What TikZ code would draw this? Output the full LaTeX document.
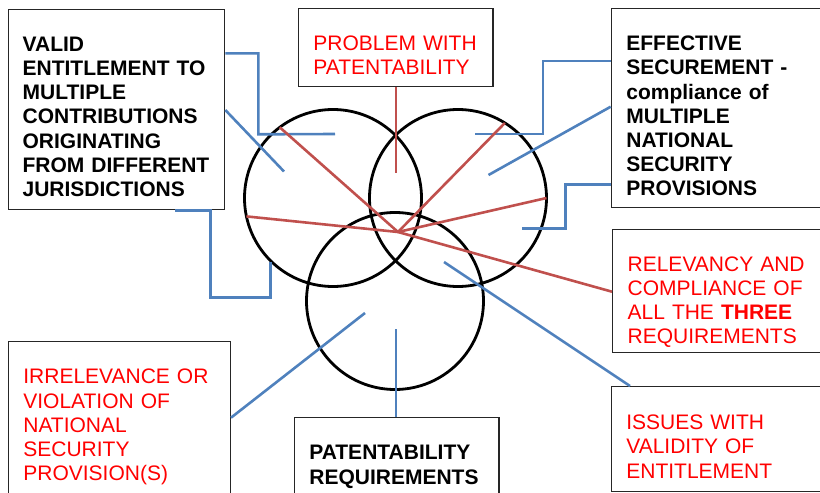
\documentclass[tikz,border=0pt]{standalone}
\usepackage{fontspec}
\setmainfont{Liberation Sans}
\definecolor{linkblue}{HTML}{4F81BD}
\definecolor{linkred}{HTML}{C0504D}
\definecolor{txtred}{HTML}{FF0000}
\tikzset{
 note/.style={draw=black!85,line width=1.3pt,anchor=north west,inner xsep=15pt,inner ysep=0pt,align=left,text height=42pt,font=\fontsize{21pt}{24.2pt}\selectfont},
 heavy/.style={font=\fontsize{21pt}{24.2pt}\selectfont\bfseries},
 alert/.style={text=txtred},
 ring/.style={draw,circle,line width=2.8pt,minimum size=177pt,inner sep=0pt,outer sep=0pt},
 bluelink/.style={linkblue,line width=2.6pt},
 redlink/.style={linkred,line width=2.6pt}
}
\begin{document}
\begin{tikzpicture}[x=1pt,y=-1pt]
 \useasboundingbox (0,0) rectangle (820,493);
 % the three circles
 \node[ring] (ca) at (333,198) {};
 \node[ring] (cb) at (458,198) {};
 \node[ring] (cc) at (395,301) {};
 % boxes
 \node[note,heavy,inner xsep=14pt,text width=188pt,text height=41.7pt,text depth=158.3pt] (valid) at (8,9) {VALID\\ENTITLEMENT TO\\MULTIPLE\\CONTRIBUTIONS\\ORIGINATING\\\mbox{FROM DIFFERENT}\\JURISDICTIONS};
 \node[note,alert,text width=164.6pt,text depth=36pt] (prob) at (297.7,8) {PROBLEM WITH\\PATENTABILITY};
 \node[note,heavy,text width=200pt,text depth=156.7pt] (eff) at (610.7,8) {EFFECTIVE\\SECUREMENT -\\compliance of\\MULTIPLE\\NATIONAL\\SECURITY\\PROVISIONS};
 \node[note,alert,text width=200pt,text depth=81pt] (rel) at (612,228.7) {RELEVANCY AND\\COMPLIANCE OF\\ALL THE \textbf{THREE}\\REQUIREMENTS};
 \node[note,alert,text width=200pt,text height=43pt,text depth=61.7pt] (iss) at (610.7,386) {ISSUES WITH\\VALIDITY OF\\ENTITLEMENT};
 \node[note,alert,text width=192pt,text height=42.6pt,text depth=200pt] (irr) at (7.7,340.7) {IRRELEVANCE OR\\VIOLATION OF\\NATIONAL\\SECURITY\\PROVISION(S)};
 \node[note,heavy,text width=174.6pt,text height=42.3pt,text depth=100pt] (pat) at (293.7,417) {PATENTABILITY\\REQUIREMENTS};
 % free ends
 \coordinate (v1) at (335,134);
 \coordinate (v2) at (284,171.5);
 \coordinate (v3) at (270.5,262);
 \coordinate (e1) at (475,134);
 \coordinate (e2) at (488.5,175);
 \coordinate (e3) at (521.5,228.7);
 \coordinate (s1) at (444,262);
 \coordinate (n1) at (365,313);
 \coordinate (p1) at (396,329);
 \coordinate (r0) at (396,173.3);
 \coordinate (hub) at (398,232);
 % blue connectors
 \draw[bluelink] ([yshift=-44.3pt]valid.north east) -| ++(33,81) -- (v1);
 \draw[bluelink] ([yshift=-101pt]valid.north east) -- (v2);
 \draw[bluelink] ([xshift=-50pt]valid.south east) -| ++(35,87) -| (v3);
 \draw[bluelink] ([yshift=-53pt]eff.north west) -| ++(-67.7,73) -- (e1);
 \draw[bluelink] ([yshift=-98.7pt]eff.north west) -- (e2);
 \draw[bluelink] ([yshift=-176.3pt]eff.north west) -| ++(-45,44.4) -- (e3);
 \draw[bluelink] (s1) -- ([xshift=19.3pt]iss.north west);
 \draw[bluelink] ([yshift=-77pt]irr.north east) -- (n1);
 \draw[bluelink] (p1) -- ([xshift=102.3pt]pat.north west);
 % red connectors
 \draw[redlink] ([xshift=98.3pt]prob.south west) -- (r0);
 \foreach \p in {ca.127.6,cb.58.4,cb.-0.5,ca.192}
  \draw[redlink] (hub) -- (\p);
 \draw[redlink] (hub) -- ([yshift=-63pt]rel.north west);
\end{tikzpicture}
\end{document}
